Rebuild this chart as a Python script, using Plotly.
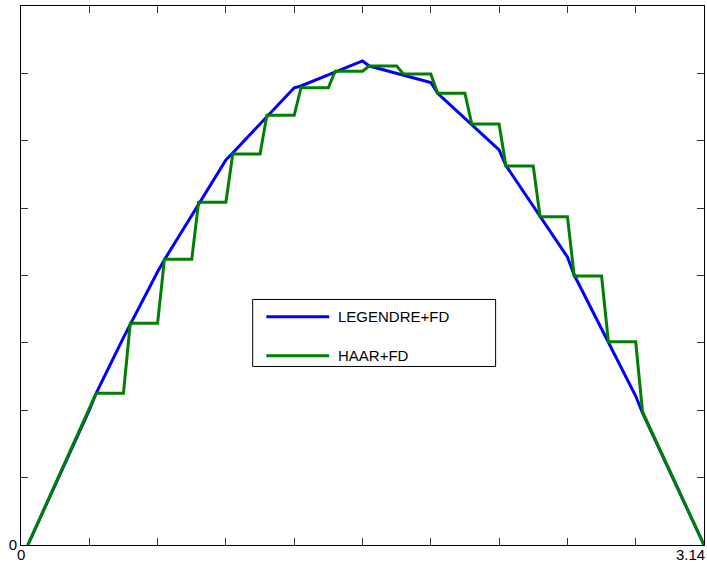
import plotly.graph_objects as go

# ---- data ----
legendre_x = [0.0314, 0.3142, 0.3456, 0.4712, 0.6283, 0.6597, 0.9425, 0.9739, 1.2566, 1.2880,
              1.5708, 1.6022, 1.8850, 1.9164, 2.1991, 2.2305, 2.5133, 2.5447, 2.8274, 2.8588, 3.1416]
legendre_y = [0.0, 0.2000, 0.2252, 0.3077, 0.4056, 0.4233, 0.5714, 0.5818, 0.6787, 0.6813,
              0.7184, 0.7109, 0.6864, 0.6704, 0.5863, 0.5633, 0.4275, 0.4007, 0.2211, 0.1959, 0.0]

haar_x = [0.0314, 0.3456, 0.4712, 0.5026, 0.6283, 0.6597, 0.7854, 0.8168, 0.9425, 0.9739,
          1.0996, 1.1310, 1.2566, 1.2880, 1.4137, 1.4451, 1.5708, 1.6022, 1.7279, 1.7593,
          1.8850, 1.9164, 2.0420, 2.0734, 2.1991, 2.2305, 2.3562, 2.3876, 2.5133, 2.5447,
          2.6704, 2.7018, 2.8274, 2.8588, 3.1416]
haar_y = [0.0, 0.2252, 0.2252, 0.3290, 0.3290, 0.4240, 0.4240, 0.5086, 0.5086, 0.5803,
          0.5803, 0.6378, 0.6378, 0.6787, 0.6787, 0.7031, 0.7031, 0.7109, 0.7109, 0.6991,
          0.6991, 0.6704, 0.6704, 0.6248, 0.6248, 0.5625, 0.5625, 0.4873, 0.4873, 0.3993,
          0.3993, 0.3017, 0.3017, 0.1978, 0.0]

series_names = ["LEGENDRE+FD", "HAAR+FD"]
series_colors = ["#0000FF", "#008000"]

x_tick_vals = [0.0, 0.31416, 0.62832, 0.94248, 1.25664, 1.5708, 1.88496, 2.19911, 2.51327, 2.82743, 3.14159]
x_end_labels = ["0", "3.14"]
y_tick_vals = [0.0, 0.1, 0.2, 0.3, 0.4, 0.5, 0.6, 0.7, 0.8]
y_tick_text = ["0", "", "", "", "", "", "", "", ""]

FONT = "Liberation Sans, Arial, Helvetica, sans-serif"

fig = go.Figure()
fig.add_trace(go.Scatter(x=legendre_x, y=legendre_y, mode="lines", name=series_names[0],
                         line=dict(color=series_colors[0], width=3), showlegend=False))
fig.add_trace(go.Scatter(x=haar_x, y=haar_y, mode="lines", name=series_names[1],
                         line=dict(color=series_colors[1], width=3), showlegend=False))

axis_common = dict(showgrid=False, zeroline=False, showline=True, linecolor="#000000", linewidth=1,
                   mirror="ticks", ticks="inside", ticklen=7, tickcolor="#333333", tickwidth=1,
                   automargin=False,
                   tickfont=dict(family=FONT, size=15, color="#000000"))

fig.update_xaxes(range=[0, 3.14159], tickvals=x_tick_vals, showticklabels=False, **axis_common)
fig.update_yaxes(range=[0, 0.8], tickvals=y_tick_vals, ticktext=y_tick_text, **axis_common)

# custom legend box (long line samples like the reference)
box = dict(x0=0.3392, x1=0.6949, y0=0.3312, y1=0.4555)
row_y = [0.4236, 0.3512]
shapes = [dict(type="rect", xref="paper", yref="paper", **box,
               line=dict(color="#000000", width=1), fillcolor="#FFFFFF", layer="above")]
annotations = []
for name, color, ry in zip(series_names, series_colors, row_y):
    shapes.append(dict(type="line", xref="paper", yref="paper", x0=0.3592, x1=0.4512, y0=ry, y1=ry,
                       line=dict(color=color, width=3), layer="above"))
    annotations.append(dict(xref="paper", yref="paper", x=0.4610, y=ry, text=name, showarrow=False,
                            xanchor="left", yanchor="middle",
                            font=dict(family=FONT, size=15, color="#000000")))

# x-axis end labels (0 centred on its tick, 3.14 kept inside the page)
annotations.append(dict(xref="x", yref="paper", x=x_tick_vals[0], y=0, text=x_end_labels[0], showarrow=False,
                        xanchor="center", yanchor="bottom", yshift=-20,
                        font=dict(family=FONT, size=15, color="#000000")))
annotations.append(dict(xref="x", yref="paper", x=x_tick_vals[-1], y=0, text=x_end_labels[1], showarrow=False,
                        xanchor="right", yanchor="bottom", xshift=3, yshift=-20,
                        font=dict(family=FONT, size=15, color="#000000")))

fig.update_layout(width=707, height=566, margin=dict(l=21, r=3, t=6, b=21),
                  plot_bgcolor="#FFFFFF", paper_bgcolor="#FFFFFF",
                  shapes=shapes, annotations=annotations,
                  font=dict(family=FONT, size=15, color="#000000"))

fig.write_html("out.html")
